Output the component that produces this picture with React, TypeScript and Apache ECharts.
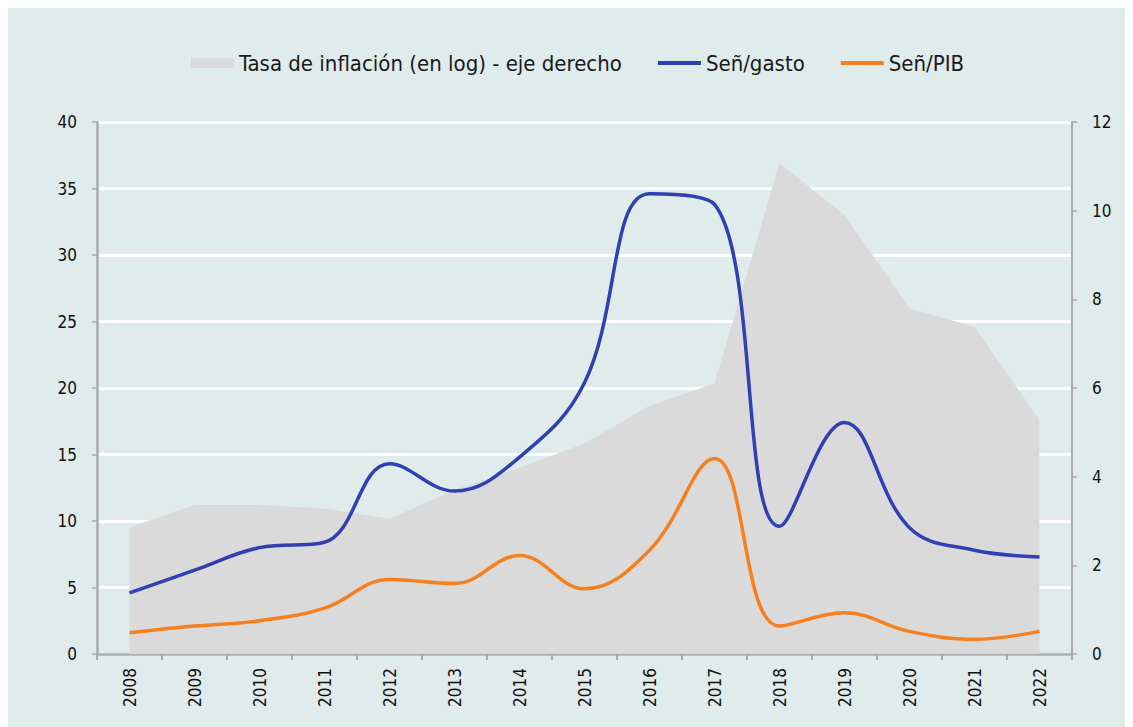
import React, { useEffect, useRef } from "react";
import * as echarts from "echarts";

const years = ["2008","2009","2010","2011","2012","2013","2014","2015","2016","2017","2018","2019","2020","2021","2022"];
const inflacionLog = [2.86, 3.36, 3.36, 3.28, 3.05, 3.7, 4.2, 4.75, 5.6, 6.1, 11.07, 9.9, 7.8, 7.38, 5.28];
const senGasto = [4.6, 6.3, 8.0, 8.4, 14.3, 12.25, 14.8, 20.4, 34.6, 33.8, 9.6, 17.4, 9.5, 7.8, 7.3];
const senPIB = [1.6, 2.1, 2.5, 3.45, 5.6, 5.3, 7.4, 4.9, 7.8, 14.7, 2.1, 3.1, 1.7, 1.1, 1.7];
const leftTicks = { min: 0, max: 40, interval: 5 };
const rightTicks = { min: 0, max: 12, interval: 2 };

const FONT = "'DejaVu Sans Condensed', 'DejaVu Sans', sans-serif";
const AXIS_GRAY = "#a9abab";
const LINE_ICON = "path://M0,0H44V4H0Z";

export default function App() {
  const ref = useRef<HTMLDivElement>(null);
  useEffect(() => {
    if (!ref.current) return;
    const chart = echarts.init(ref.current, null, { renderer: "svg" });
    chart.setOption({
      animation: false,
      backgroundColor: "#e0ebeb",
      textStyle: { fontFamily: FONT },
      legend: {
        left: 178,
        top: 39,
        itemWidth: 43,
        itemHeight: 10,
        itemGap: 36,
        textStyle: { fontFamily: FONT, fontSize: 22, color: "#1a1a1a" },
        data: [
          { name: "Tasa de inflación (en log) - eje derecho", icon: "rect", itemStyle: { color: "#dadada" } },
          { name: "Señ/gasto", icon: LINE_ICON, itemStyle: { color: "#3040b4" } },
          { name: "Señ/PIB", icon: LINE_ICON, itemStyle: { color: "#f7801e" } },
        ],
      },
      grid: { left: 89, right: 61, top: 114, bottom: 73 },
      xAxis: {
        type: "category",
        data: years,
        boundaryGap: true,
        axisLine: { lineStyle: { color: AXIS_GRAY, width: 2.5 } },
        axisTick: { show: true, length: 6, lineStyle: { color: AXIS_GRAY, width: 2 } },
        axisLabel: { rotate: 90, margin: 14, fontSize: 17, color: "#111", fontFamily: FONT },
        splitLine: { show: false },
      },
      yAxis: [
        {
          type: "value",
          position: "left",
          ...leftTicks,
          axisLine: { show: true, lineStyle: { color: AXIS_GRAY, width: 2.5 } },
          axisTick: { show: true, length: 5, lineStyle: { color: AXIS_GRAY, width: 1.5 } },
          axisLabel: { margin: 20, fontSize: 17, color: "#111", fontFamily: FONT },
          splitLine: { show: true, lineStyle: { color: "#ffffff", width: 3 } },
        },
        {
          type: "value",
          position: "right",
          ...rightTicks,
          axisLine: { show: true, lineStyle: { color: AXIS_GRAY, width: 2 } },
          axisTick: { show: true, length: 5, lineStyle: { color: AXIS_GRAY, width: 1.5 } },
          axisLabel: { margin: 20, fontSize: 17, color: "#111", fontFamily: FONT },
          splitLine: { show: false },
        },
      ],
      series: [
        {
          name: "Tasa de inflación (en log) - eje derecho",
          type: "line",
          yAxisIndex: 1,
          data: inflacionLog,
          symbol: "none",
          lineStyle: { width: 0, color: "#dadada" },
          itemStyle: { color: "#dadada" },
          areaStyle: { color: "#dadada", opacity: 1 },
          z: 1,
        },
        {
          name: "Señ/gasto",
          type: "line",
          data: senGasto,
          smooth: 0.4,
          symbol: "none",
          lineStyle: { width: 3.5, color: "#3040b4" },
          itemStyle: { color: "#3040b4" },
          z: 3,
        },
        {
          name: "Señ/PIB",
          type: "line",
          data: senPIB,
          smooth: 0.4,
          symbol: "none",
          lineStyle: { width: 3.5, color: "#f7801e" },
          itemStyle: { color: "#f7801e" },
          z: 3,
        },
      ],
    });
    return () => chart.dispose();
  }, []);
  return <div ref={ref} style={{ width: 1125, height: 719 }} />;
}
